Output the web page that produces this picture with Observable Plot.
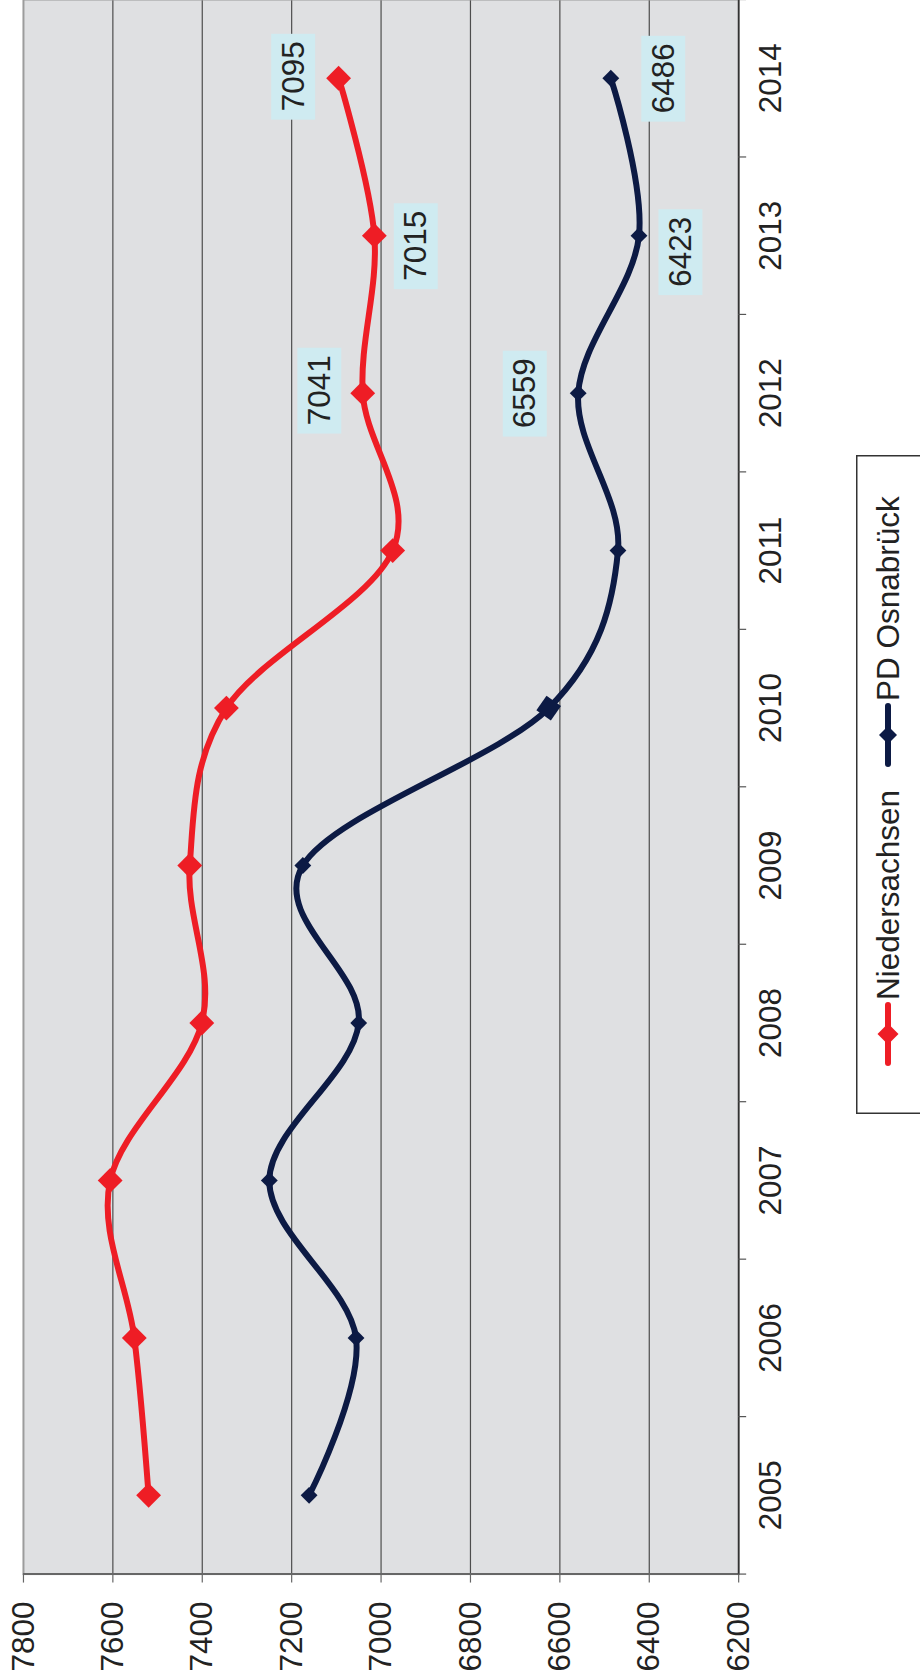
<!DOCTYPE html>
<html><head><meta charset="utf-8">
<script src="https://cdn.jsdelivr.net/npm/d3@7"></script>
<script src="https://cdn.jsdelivr.net/npm/@observablehq/plot@0.6"></script>
<style>
html,body{margin:0;padding:0;background:#fff;}
body{width:920px;height:1679px;overflow:hidden;position:relative;font-family:"Liberation Sans",Arial,sans-serif;}
#rot{position:absolute;left:0;top:0;width:1679px;height:920px;transform-origin:0 0;transform:translate(0px,1679px) rotate(-90deg);}
#chart{position:absolute;left:0;top:0;}
#legend{position:absolute;left:565px;top:856px;}
</style></head><body>
<div id="rot"><div id="chart"></div><div id="legend"></div></div>
<script>
// ---- data ----
const years = [2005, 2006, 2007, 2008, 2009, 2010, 2011, 2012, 2013, 2014];
const niedersachsen = [7520, 7552, 7606, 7401, 7428, 7346, 6974, 7041, 7015, 7095];
const osnabrueck = [7161, 7056, 7250, 7050, 7175, 6625, 6470, 6559, 6423, 6486];
const seriesNames = ["Niedersachsen", "PD Osnabrück"];
const valueTicks = [6200, 6400, 6600, 6800, 7000, 7200, 7400, 7600, 7800];
const labelYears = [2012, 2013, 2014];

// ---- styling / layout ----
const colors = ["#ee1d25", "#0c1a44"];
const markerR = [11.2, 7.6];
const fs = 31.5;
const labelNudge = {
  "Niedersachsen-2012": [3, -43], "Niedersachsen-2013": [-10, 42], "Niedersachsen-2014": [2, -45],
  "PD Osnabrück-2012": [0, -53], "PD Osnabrück-2013": [-16, 42], "PD Osnabrück-2014": [0, 53]
};
const font = "Liberation Sans, Arial, sans-serif";

const rows = [];
[niedersachsen, osnabrueck].forEach((vals, si) => {
  years.forEach((yr, i) => rows.push({series: seriesNames[si], year: yr, value: vals[i]}));
});
const boundaries = years.map(y => y - 0.5).concat([years[years.length - 1] + 0.5]);
const labelRows = rows.filter(d => labelYears.includes(d.year));

const labelMarks = labelRows.flatMap(d => {
  const [dx, dy] = labelNudge[d.series + "-" + d.year] || [0, 0];
  return [
    Plot.rect([d], {x1: "year", x2: "year", y1: "value", y2: "value",
      insetLeft: -43, insetRight: -43, insetTop: -22, insetBottom: -22,
      dx, dy, fill: "#cfebf1"}),
    Plot.text([d], {x: "year", y: "value", text: r => String(r.value), dx, dy,
      fontSize: fs, fill: "#222"})
  ];
});

const chart = Plot.plot({
  width: 1682, height: 800,
  marginLeft: 104.6, marginRight: 0, marginTop: 23, marginBottom: 60.5,
  style: {fontFamily: font, fontSize: fs + "px", color: "#222", background: "transparent", overflow: "visible"},
  x: {type: "linear", domain: [2004.5, 2014.5]},
  y: {domain: [6200, 7800]},
  color: {domain: seriesNames, range: colors},
  marks: [
    Plot.frame({fill: "#dfe0e2", stroke: null}),
    Plot.ruleY(valueTicks.filter(v => v > 6200 && v < 7800), {stroke: "#4d4d4d", strokeWidth: 1.2}),
    Plot.frame({stroke: "#9c9c9c", strokeWidth: 2}),
    Plot.ruleX([2004.5], {stroke: "#666", strokeWidth: 2}),
    Plot.ruleY([6200], {stroke: "#333", strokeWidth: 1.6}),
    Plot.axisY(valueTicks, {tickSize: 8, tickPadding: 19.6, stroke: "#666", strokeWidth: 1.2,
      fontSize: fs, tickFormat: d => String(d), label: null}),
    Plot.axisX(boundaries, {tickSize: 8, tickFormat: () => "", stroke: "#555", strokeWidth: 1.2, label: null}),
    Plot.axisX(years, {tickSize: 0, tickPadding: 20, fontSize: fs, tickFormat: d => String(d), label: null}),
    Plot.line(rows, {x: "year", y: "value", z: "series", stroke: "series", strokeWidth: 6, curve: "cardinal"}),
    ...seriesNames.map((s, i) => Plot.dot(rows.filter(d => d.series === s),
      {x: "year", y: "value", fill: colors[i], symbol: "diamond2", r: markerR[i], stroke: null})),
    // the 2010 marker of PD Osnabrück is drawn larger in the original
    Plot.dot(rows.filter(d => d.series === seriesNames[1] && d.year === 2010),
      {x: "year", y: "value", fill: colors[1], symbol: "square", r: 10, rotate: 35, stroke: null}),
    ...labelMarks
  ]
});
document.getElementById("chart").appendChild(chart);

// ---- legend (box with inline SVG swatches, real text) ----
const ns = "http://www.w3.org/2000/svg";
const lw = 659, lh = 120;
const leg = document.createElementNS(ns, "svg");
leg.setAttribute("width", lw); leg.setAttribute("height", lh);
leg.style.display = "block";
const box = document.createElementNS(ns, "rect");
box.setAttribute("x", 0.75); box.setAttribute("y", 0.75);
box.setAttribute("width", lw - 1.5); box.setAttribute("height", lh);
box.setAttribute("fill", "#fff"); box.setAttribute("stroke", "#333"); box.setAttribute("stroke-width", 1.5);
leg.appendChild(box);
const entryX = [51, 350];
seriesNames.forEach((s, i) => {
  const x0 = entryX[i], cy = 32;
  const ln = document.createElementNS(ns, "line");
  ln.setAttribute("x1", x0); ln.setAttribute("x2", x0 + 58);
  ln.setAttribute("y1", cy); ln.setAttribute("y2", cy);
  ln.setAttribute("stroke", colors[i]); ln.setAttribute("stroke-width", 6);
  ln.setAttribute("stroke-linecap", "round");
  leg.appendChild(ln);
  const h = i === 0 ? 10.5 : 9;
  const cx = x0 + 29;
  const dm = document.createElementNS(ns, "polygon");
  dm.setAttribute("points", `${cx},${cy - h} ${cx + h},${cy} ${cx},${cy + h} ${cx - h},${cy}`);
  dm.setAttribute("fill", colors[i]);
  leg.appendChild(dm);
  const t = document.createElementNS(ns, "text");
  t.setAttribute("x", x0 + 63); t.setAttribute("y", 43);
  t.setAttribute("font-family", font); t.setAttribute("font-size", fs);
  t.setAttribute("fill", "#222");
  t.textContent = s;
  leg.appendChild(t);
});
document.getElementById("legend").appendChild(leg);
</script>
</body></html>
